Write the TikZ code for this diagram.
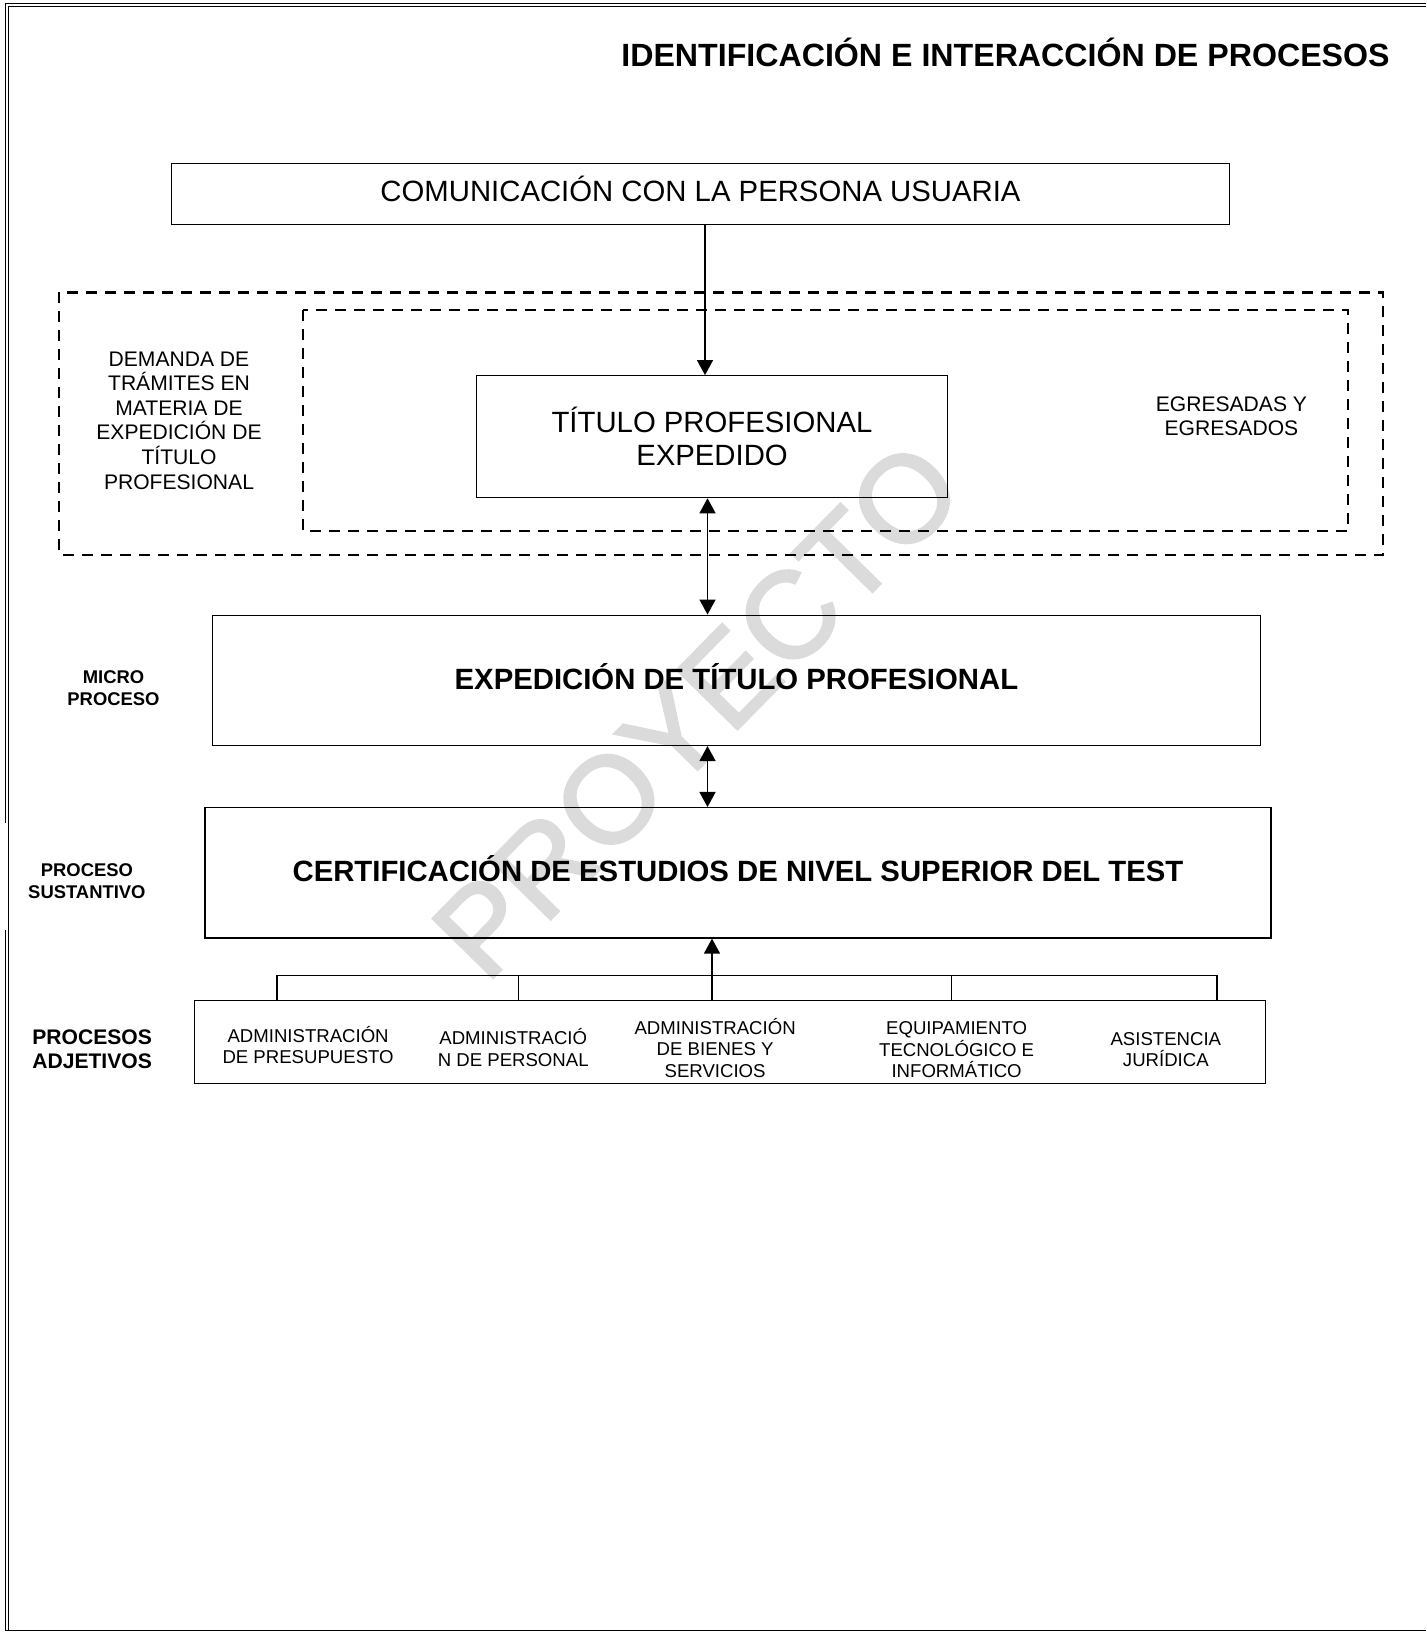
\documentclass[tikz,border=0pt]{standalone}
\usepackage{fontspec}
\setmainfont{Liberation Sans}
\newfontfamily\marcafuente[FakeBold=2]{Liberation Sans}
\usetikzlibrary{arrows.meta}

\tikzset{
  caja/.style={draw, rectangle, inner sep=0pt},
  marco/.style={line width=.6pt, dash pattern=on 1.1mm off .8mm},
  txt/.style={inner sep=0pt, align=center},
  grande/.style={font=\fontsize{8.34}{9.47}\selectfont},
  grandeb/.style={font=\bfseries\fontsize{8.34}{9.47}\selectfont},
  medio/.style={font=\fontsize{6}{7}\selectfont},
  chico/.style={font=\fontsize{5.29}{6.12}\selectfont},
  etiq/.style={font=\bfseries\fontsize{5.24}{6.23}\selectfont},
  etiqg/.style={font=\bfseries\fontsize{6}{6.83}\selectfont}
}

\begin{document}
\begin{tikzpicture}[>={Triangle[length=1.5mm,width=1.6mm]}, line width=.4pt]
\useasboundingbox (0,0) rectangle (14.26,-16.32);

% marca de agua
\node[rotate=45.5, text=black!14, font=\marcafuente\fontsize{35}{40}\selectfont] (marca) at (6.97,-7.1) {PROYECTO};

% borde de la hoja
\draw (0.053,-0.033) -- (14.26,-0.033);
\draw (0.085,-0.065) -- (14.26,-0.065);
\draw (0.053,-0.033) -- (0.053,-8.23);
\draw (0.053,-9.30) -- (0.053,-16.305);
\draw (0.085,-0.065) -- (0.085,-16.305);
\draw (0.053,-16.305) -- (14.26,-16.305);

\node[txt, anchor=base, font=\bfseries\fontsize{9.15}{10}\selectfont] (encabezado) at (10.055,-0.667) {IDENTIFICACIÓN E INTERACCIÓN DE PROCESOS};

\node[caja, grande, minimum width=10.575cm, minimum height=.614cm, text height=6pt, text depth=.7mm] (comunicacion) at (7.005,-1.941) {COMUNICACIÓN CON LA PERSONA USUARIA};

% recuadros punteados
\draw[marco] (0.593,-2.925) rectangle (13.834,-5.548);
\draw[marco] (3.029,-3.102) rectangle (13.48,-5.309);

\node[txt, medio] (demanda) at (1.79,-4.205) {DEMANDA DE\\TRÁMITES EN\\MATERIA DE\\EXPEDICIÓN DE\\TÍTULO\\PROFESIONAL};
\node[txt, medio] (egresados) at (12.314,-4.164) {EGRESADAS Y\\EGRESADOS};
\node[caja, txt, grande, minimum width=4.705cm, minimum height=1.218cm] (expedido) at (7.12,-4.367) {TÍTULO PROFESIONAL\\EXPEDIDO};

\node[caja, grandeb, minimum width=10.482cm, minimum height=1.301cm, text height=6pt, text depth=.3mm] (expedicion) at (7.364,-6.803) {EXPEDICIÓN DE TÍTULO PROFESIONAL};
\node[txt, etiq] (micro) at (1.135,-6.886) {MICRO\\PROCESO};

\node[caja, grandeb, minimum width=10.66cm, minimum height=1.302cm, text height=6pt, text depth=.3mm] (certificacion) at (7.38,-8.728) {CERTIFICACIÓN DE ESTUDIOS DE NIVEL SUPERIOR DEL TEST};
\node[txt, etiq] (sustantivo) at (0.869,-8.811) {PROCESO\\SUSTANTIVO};

\node[caja, minimum width=10.71cm, minimum height=.833cm] (apoyo) at (7.302,-10.42) {};
\node[txt, etiqg] (adjetivos) at (0.921,-10.497) {PROCESOS\\ADJETIVOS};
\node[txt, chico] (presupuesto) at (3.081,-10.451) {ADMINISTRACIÓN\\DE PRESUPUESTO};
\node[txt, chico] (personal) at (5.132,-10.477) {ADMINISTRACIÓ\\N DE PERSONAL};
\node[txt, chico] (bienes) at (7.151,-10.477) {ADMINISTRACIÓN\\DE BIENES Y\\SERVICIOS};
\node[txt, chico] (equipo) at (9.566,-10.498) {EQUIPAMIENTO\\TECNOLÓGICO E\\INFORMÁTICO};
\node[txt, chico] (juridica) at (11.658,-10.498) {ASISTENCIA\\JURÍDICA};

% flechas
\coordinate (ejeA) at (7.05,0);
\coordinate (ejeB) at (7.075,0);
\coordinate (ejeC) at (7.12,0);
\draw[->] (comunicacion.south -| ejeA) -- (expedido.north -| ejeA);
\draw[<->] (expedido.south -| ejeB) -- (expedicion.north -| ejeB);
\draw[<->] (expedicion.south -| ejeB) -- (certificacion.north -| ejeB);
\draw[->] (apoyo.north -| ejeC) -- (certificacion.south -| ejeC);

% llaves de procesos adjetivos
\draw (apoyo.north -| 2.769,0) |- (12.168,-9.753) -- (apoyo.north -| 12.168,0);
\foreach \x in {5.184,9.514}
 \draw (\x,-9.753) -- (apoyo.north -| \x,0);
\end{tikzpicture}
\end{document}
